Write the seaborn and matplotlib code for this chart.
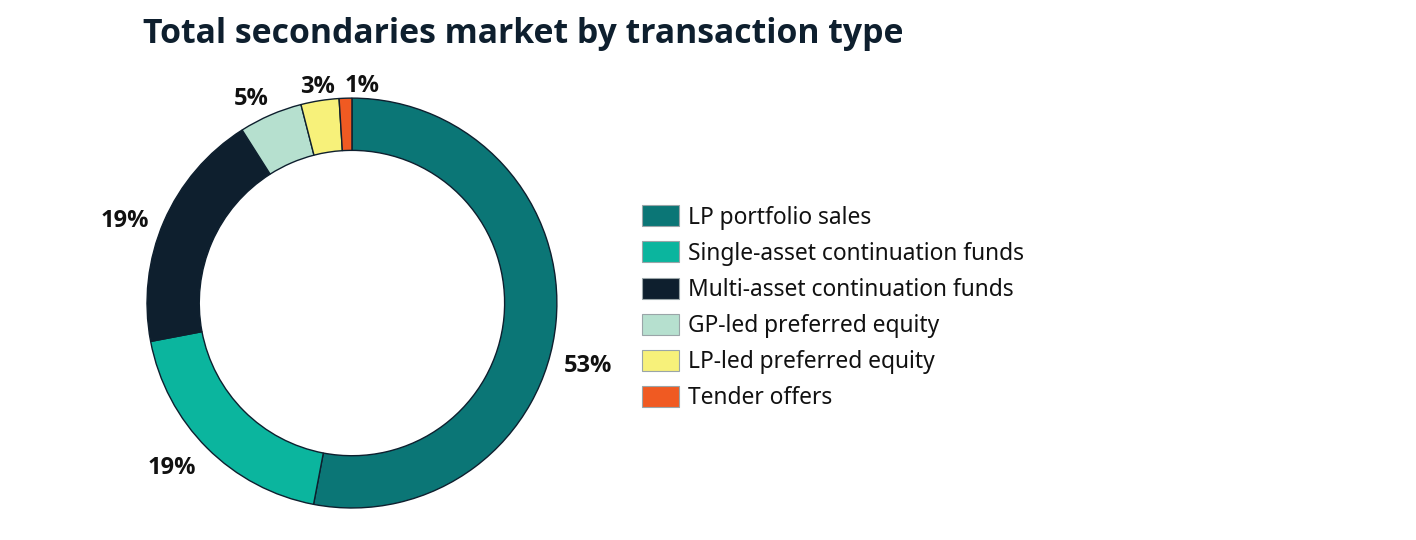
#!/usr/bin/env python3
"""
secondaries_donut.py

Donut chart of the total secondaries market split by transaction type.
"""

import numpy as np
import matplotlib
matplotlib.use("Agg")
import matplotlib.pyplot as plt
import seaborn as sns

# Data
transaction_types = [
    'LP portfolio sales',
    'Single-asset continuation funds',
    'Multi-asset continuation funds',
    'GP-led preferred equity',
    'LP-led preferred equity',
    'Tender offers',
]
shares = [53, 19, 19, 5, 3, 1]
share_labels = ['53%', '19%', '19%', '5%', '3%', '1%']

colors = ['#0b7676', '#0bb59e', '#0e1f2e', '#b6e0cf', '#f7f17a', '#f05a22']
NAVY = '#0e1f2e'


def plot_donut():
    """Draw the donut chart with its legend and save it."""
    sns.set_theme(style='white')
    plt.rcParams['font.family'] = ['Noto Sans', 'DejaVu Sans']
    palette = sns.color_palette(colors)
    bold_font = ['Open Sans', 'DejaVu Sans']

    fig = plt.figure(figsize=(14.16, 5.4), dpi=100)
    fig.patch.set_facecolor('white')

    # axes sized so the ring is 410px across, centred at (352, 303)
    ax = fig.add_axes([0.1038, 0.0593, 0.2895, 0.759])
    wedges, _ = ax.pie(
        shares,
        colors=palette,
        startangle=90,
        counterclock=False,
        radius=1.0,
        wedgeprops=dict(width=0.255, edgecolor=NAVY, linewidth=1.0),
    )
    ax.set_xlim(-1, 1)
    ax.set_ylim(-1, 1)
    ax.set_aspect('equal')
    ax.axis('off')

    # percentage labels just outside each wedge (small nudges so they read like the original)
    label_r = [1.19, 1.19, 1.18, 1.11, 1.065, 1.06]
    label_nudge = [-9.5, -2.5, 3.5, 3.0, 0.0, -4.5]
    for w, txt, r, nd in zip(wedges, share_labels, label_r, label_nudge):
        ang = np.deg2rad((w.theta1 + w.theta2) / 2 + nd)
        ax.text(r * np.cos(ang), r * np.sin(ang), txt,
                ha='center', va='center', fontsize=17, fontweight='bold',
                family=bold_font, color='#111111', clip_on=False)

    fig.text(0.101, 0.937, 'Total secondaries market by transaction type',
             fontsize=24.3, fontweight='bold', family=bold_font, color=NAVY,
             ha='left', va='center')

    fig.legend(wedges, transaction_types,
               loc='upper left', bbox_to_anchor=(0.439, 0.658),
               frameon=False, fontsize=16.4,
               handlelength=1.6, handleheight=1.05,
               handletextpad=0.4, labelspacing=0.52,
               labelcolor='#111111')
    for h in fig.legends[0].legend_handles:
        h.set_edgecolor('#9aa5a8')
        h.set_linewidth(0.8)

    plt.savefig('out.png', dpi=100, facecolor='white')
    plt.close()


def main():
    plot_donut()


if __name__ == "__main__":
    main()
